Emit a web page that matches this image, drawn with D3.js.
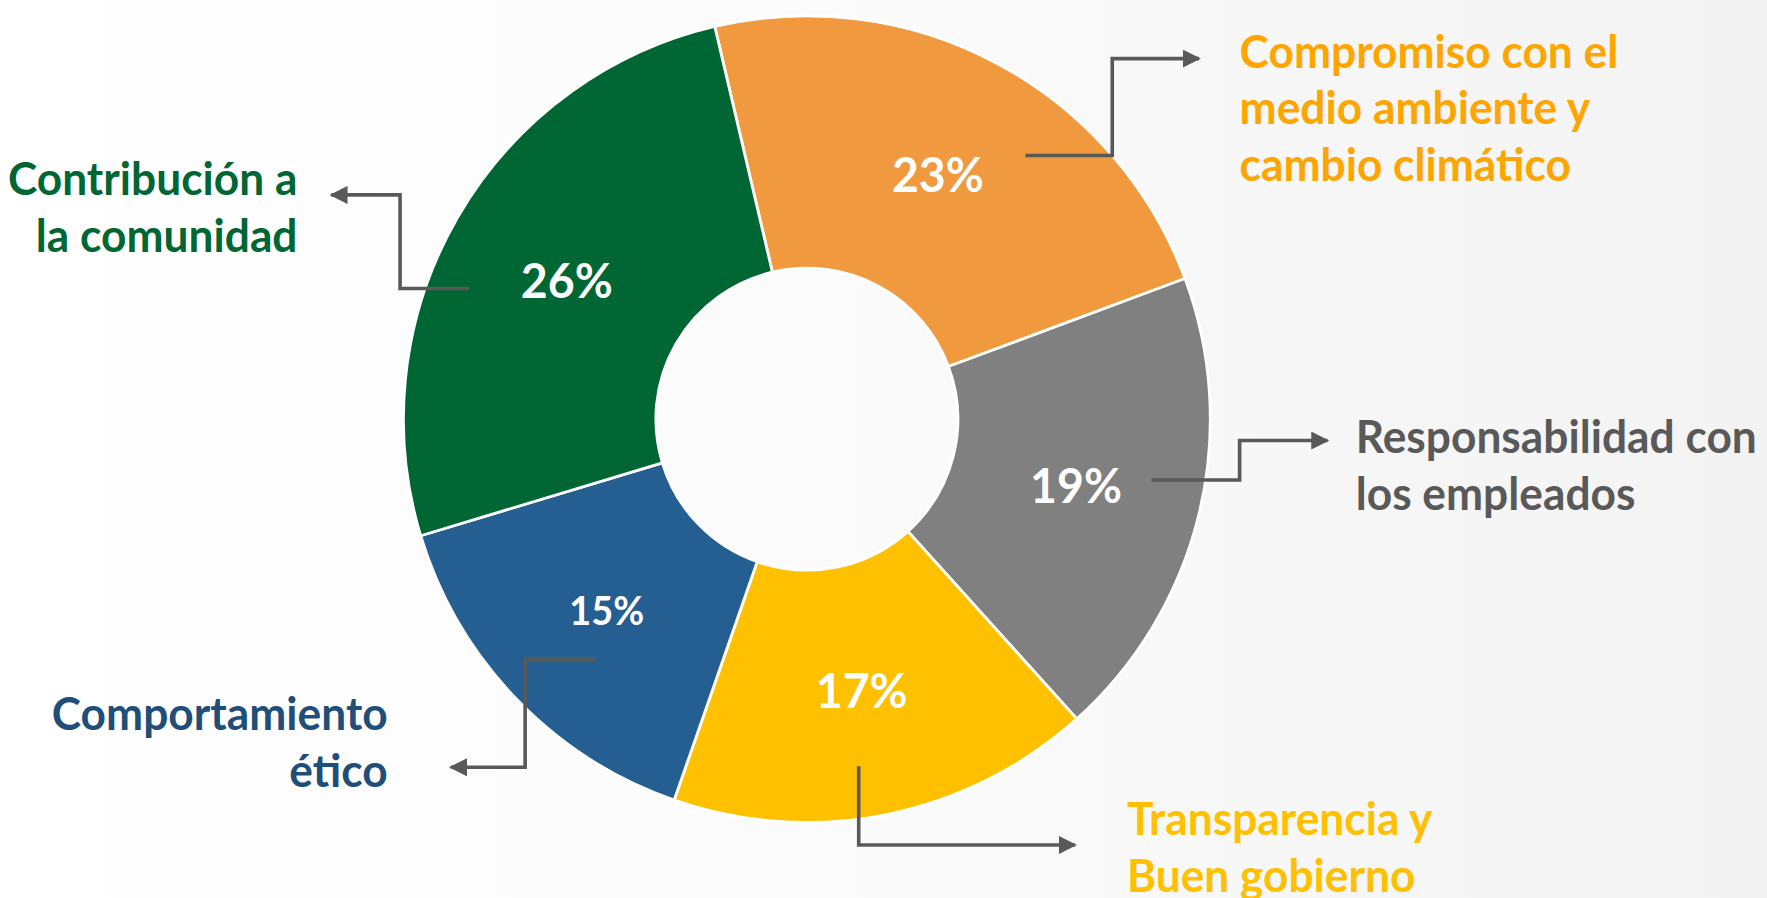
<!DOCTYPE html>
<html>
<head>
<meta charset="utf-8">
<script src="https://cdn.jsdelivr.net/npm/d3@7"></script>
<style>
    html, body { margin: 0; padding: 0; overflow: hidden; }
    svg { display: block; }
    .label { font-family: Lato, "Open Sans", sans-serif; font-weight: bold; }
</style>
</head>
<body>
<svg id="chart"></svg>
<script>
const categories = ["Compromiso con el medio ambiente y cambio climático", "Responsabilidad con los empleados", "Transparencia y Buen gobierno", "Comportamiento ético", "Contribución a la comunidad"];
const values = [23, 19, 17, 15, 26];
const sliceColors = ["#F0993E", "#808080", "#FFC000", "#255E91", "#006633"];
const textColors = ["#FFA500", "#595959", "#FFC000", "#1F4E79", "#006633"];
const labelLines = [
    ["Compromiso con el", "medio ambiente y", "cambio climático"],
    ["Responsabilidad con", "los empleados"],
    ["Transparencia y", "Buen gobierno"],
    ["Comportamiento", "ético"],
    ["Contribución a", "la comunidad"]
];

// drawing is laid out in a 1568 x 797 box and scaled to the window
const W = 1568, H = 797;
const cx = 716, cy = 372;
const outerR = 358, innerR = 134;

// callout leader lines: start, elbow, arrow tip; text anchor point
const callouts = [
    { pts: [[910, 138], [987, 138], [987, 52], [1064, 52]], tx: 1100, ty: 60, anchor: "start" },
    { pts: [[1022, 426], [1100, 426], [1100, 391], [1178, 391]], tx: 1203, ty: 402, anchor: "start" },
    { pts: [[762, 680], [762, 750], [954, 750]], tx: 1000, ty: 741, anchor: "start" },
    { pts: [[529, 585], [466, 585], [466, 681], [400, 681]], tx: 344, ty: 648, anchor: "end" },
    { pts: [[416, 256], [355, 256], [355, 173], [294, 173]], tx: 264, ty: 173, anchor: "end" }
];

const svg = d3.select("#chart")
    .attr("width", 1767)
    .attr("height", 898)
    .attr("viewBox", "0 0 " + W + " " + H)
    .attr("preserveAspectRatio", "none");

const defs = svg.append("defs");
const grad = defs.append("linearGradient")
    .attr("id", "bg")
    .attr("x1", "0").attr("x2", "1").attr("y1", "0").attr("y2", "0");
grad.append("stop").attr("offset", "0%").attr("stop-color", "#ffffff");
grad.append("stop").attr("offset", "45%").attr("stop-color", "#fbfbfb");
grad.append("stop").attr("offset", "100%").attr("stop-color", "#f3f3f3");

defs.append("marker")
    .attr("id", "arrow")
    .attr("viewBox", "0 0 10 10")
    .attr("refX", 9)
    .attr("refY", 5)
    .attr("markerWidth", 5)
    .attr("markerHeight", 5)
    .attr("markerUnits", "strokeWidth")
    .attr("orient", "auto")
    .append("path")
    .attr("d", "M0,0 L10,5 L0,10 Z")
    .attr("fill", "#595959");

svg.append("rect")
    .attr("width", W)
    .attr("height", H)
    .attr("fill", "url(#bg)");

// horizontal squeeze so the bold sans matches the narrow face of the original
const probe = svg.append("text")
    .attr("class", "label")
    .attr("font-size", 41)
    .text(labelLines[0][0]);
const squeeze = 336 / probe.node().getComputedTextLength();
probe.remove();

const startAngle = -13.2 * Math.PI / 180;

const pie = d3.pie()
    .sort(null)
    .value(d => d)
    .startAngle(startAngle)
    .endAngle(startAngle + 2 * Math.PI);

const arc = d3.arc()
    .innerRadius(innerR)
    .outerRadius(outerR);

const arcs = pie(values);

const g = svg.append("g")
    .attr("transform", "translate(" + cx + "," + cy + ")");

g.selectAll(".slice")
    .data(arcs)
    .enter().append("path")
    .attr("class", "slice")
    .attr("d", arc)
    .attr("fill", (d, i) => sliceColors[i])
    .attr("stroke", "#ffffff")
    .attr("stroke-width", 2.5)
    .attr("stroke-linejoin", "round");

g.selectAll(".pct")
    .data(arcs)
    .enter().append("text")
    .attr("class", "label pct")
    .attr("transform", d => "translate(" + arc.centroid(d) + ") scale(" + squeeze + ",1)")
    .attr("dy", "0.36em")
    .attr("text-anchor", "middle")
    .attr("fill", "#ffffff")
    .attr("font-size", (d, i) => values[i] === 15 ? 35 : 43)
    .text(d => d.value + "%");

const line = d3.line();

svg.selectAll(".leader")
    .data(callouts)
    .enter().append("path")
    .attr("class", "leader")
    .attr("d", d => line(d.pts))
    .attr("fill", "none")
    .attr("stroke", "#595959")
    .attr("stroke-width", 3.2)
    .attr("marker-end", "url(#arrow)");

callouts.forEach((c, i) => {
    const t = svg.append("text")
        .attr("class", "label")
        .attr("transform", "translate(" + c.tx + "," + c.ty + ") scale(" + squeeze + ",1)")
        .attr("text-anchor", c.anchor)
        .attr("fill", textColors[i])
        .attr("font-size", 41);
    labelLines[i].forEach((s, j) => {
        t.append("tspan")
            .attr("x", 0)
            .attr("y", j * 50.5)
            .text(s);
    });
});
</script>
</body>
</html>
